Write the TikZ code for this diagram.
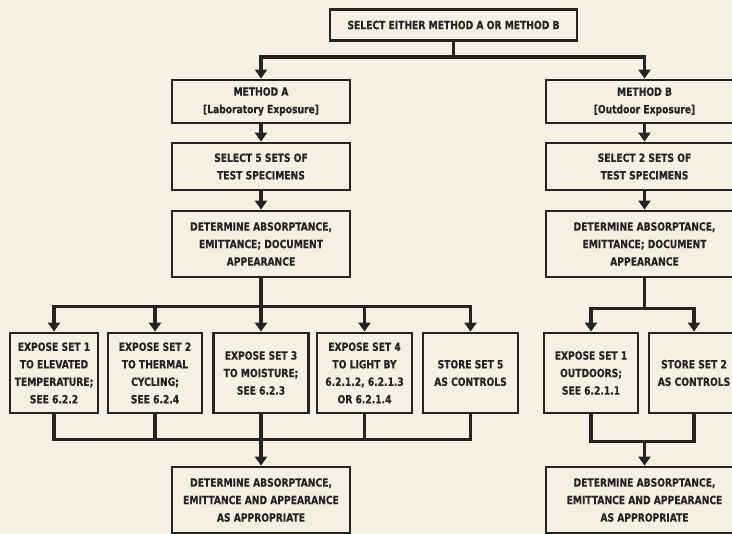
\documentclass[tikz,border=0pt]{standalone}
\usepackage{fontspec}
\newfontfamily\boxfont{DejaVu Sans Condensed}[FakeStretch=0.9, BoldFeatures={FakeBold=0.4}]
\usetikzlibrary{arrows.meta}
\definecolor{paper}{RGB}{244,241,228}
\definecolor{ink}{RGB}{38,36,34}
\begin{document}
\begin{tikzpicture}[x=1pt,y=-1pt,
  box/.style={draw=ink, line width=2.8pt, rectangle, align=center, inner sep=0pt,
    text=ink, font=\boxfont\bfseries\fontsize{11.3}{17.5}\selectfont},
  conn/.style={draw=ink, line width=3.6pt, line join=miter},
  arr/.style={conn, -{Triangle[width=12pt,length=9pt]}}]
  % page
  \fill[paper] (0,0) rectangle (732,534);
  \useasboundingbox (0,0) rectangle (732,534);
  \clip (0,0) rectangle (732,534);

  % start
  \node[box, minimum width=247pt, minimum height=31pt] (top) at (453.5,25)
    {SELECT EITHER METHOD A OR METHOD B};

  % method A column
  \node[box, minimum width=178pt, minimum height=43pt] (mA) at (261,101.5)
    {METHOD A\\ {[}Laboratory Exposure{]}};
  \node[box, minimum width=178pt, minimum height=47pt] (s5) at (261,166.5)
    {SELECT 5 SETS OF\\ TEST SPECIMENS};
  \node[box, minimum width=178pt, minimum height=66pt] (dA) at (261,244)
    {DETERMINE ABSORPTANCE,\\ EMITTANCE; DOCUMENT\\ APPEARANCE};
  \node[box, minimum width=88pt, minimum height=80pt] (e1) at (54,373)
    {EXPOSE SET 1\\ TO ELEVATED\\ TEMPERATURE;\\ SEE 6.2.2};
  \node[box, minimum width=94pt, minimum height=80pt] (e2) at (155,373)
    {EXPOSE SET 2\\ TO THERMAL\\ CYCLING;\\ SEE 6.2.4};
  \node[box, minimum width=95pt, minimum height=80pt] (e3) at (261,373)
    {EXPOSE SET 3\\ TO MOISTURE;\\ SEE 6.2.3};
  \node[box, minimum width=95pt, minimum height=80pt] (e4) at (364.5,373)
    {EXPOSE SET 4\\ TO LIGHT BY\\ 6.2.1.2, 6.2.1.3\\ OR 6.2.1.4};
  \node[box, minimum width=95pt, minimum height=80pt] (e5) at (470.5,373)
    {STORE SET 5\\ AS CONTROLS};
  \node[box, minimum width=178pt, minimum height=66pt] (fA) at (261,500)
    {DETERMINE ABSORPTANCE,\\ EMITTANCE AND APPEARANCE\\ AS APPROPRIATE};

  % method B column
  \node[box, minimum width=197pt, minimum height=43pt] (mB) at (644.5,101.5)
    {METHOD B\\ {[}Outdoor Exposure{]}};
  \node[box, minimum width=197pt, minimum height=47pt] (s2) at (644.5,166.5)
    {SELECT 2 SETS OF\\ TEST SPECIMENS};
  \node[box, minimum width=197pt, minimum height=66pt] (dB) at (644.5,244)
    {DETERMINE ABSORPTANCE,\\ EMITTANCE; DOCUMENT\\ APPEARANCE};
  \node[box, minimum width=94pt, minimum height=80pt] (b1) at (591,373)
    {EXPOSE SET 1\\ OUTDOORS;\\ SEE 6.2.1.1};
  \node[box, minimum width=90pt, minimum height=80pt] (b2) at (694,373)
    {STORE SET 2\\ AS CONTROLS};
  \node[box, minimum width=197pt, minimum height=66pt] (fB) at (644.5,500)
    {DETERMINE ABSORPTANCE,\\ EMITTANCE AND APPEARANCE\\ AS APPROPRIATE};

  % junction points
  \path (top.south) ++(0,15) coordinate (j0);
  \path (dA.south) ++(0,28) coordinate (jA);
  \path (e3.south) ++(0,25) coordinate (kA);
  \path (dB.south) ++(0,30) coordinate (jB);
  \path (b1.south -| dB.south) ++(0,27) coordinate (kB);

  % split into the two methods
  \draw[conn] (top.south) -- (j0);
  \draw[arr] (j0) -| (mA.north);
  \draw[arr] (j0) -| (mB.north);

  % method A flow
  \draw[arr] (mA) -- (s5);
  \draw[arr] (s5) -- (dA);
  \draw[conn] (dA.south) -- (jA);
  \foreach \n in {e1,e2,e3,e4,e5} \draw[arr] (jA) -| (\n.north);
  \foreach \n in {e1,e2,e4,e5} \draw[conn] (\n.south) |- (kA);
  \draw[conn] (e3.south) -- (kA);
  \draw[arr] (kA) -- (fA.north);

  % method B flow
  \draw[arr] (mB) -- (s2);
  \draw[arr] (s2) -- (dB);
  \draw[conn] (dB.south) -- (jB);
  \foreach \n in {b1,b2} \draw[arr] (jB) -| (\n.north);
  \foreach \n in {b1,b2} \draw[conn] (\n.south) |- (kB);
  \draw[arr] (kB) -- (fB.north);
\end{tikzpicture}
\end{document}
